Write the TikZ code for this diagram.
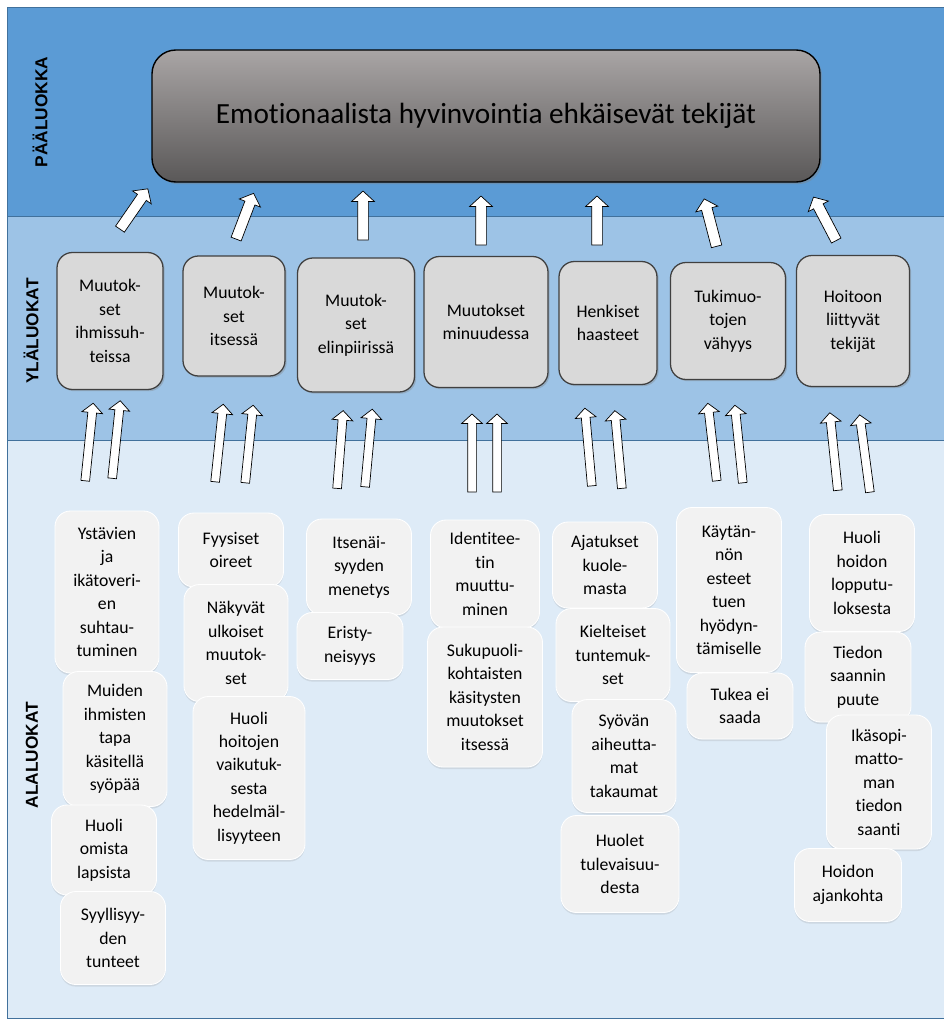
\documentclass[tikz,border=0pt]{standalone}
\usepackage{fontspec}
\setmainfont{Carlito}[Ligatures=NoCommon]
\newfontfamily\headfont{Liberation Sans}
\usepackage{tikz}
\usetikzlibrary{shapes.arrows, shadows, positioning}

\definecolor{bandtop}{HTML}{5B9BD5}
\definecolor{bandmid}{HTML}{9DC3E6}
\definecolor{bandlow}{HTML}{DEEBF7}
\definecolor{bandline}{HTML}{41719C}
\definecolor{midfill}{HTML}{D9D9D9}
\definecolor{lowfill}{HTML}{F2F2F2}
\definecolor{maintop}{HTML}{A9A5A5}
\definecolor{mainbot}{HTML}{5A5858}
\newcommand{\pxl}{0.025cm}

\begin{document}
\begin{tikzpicture}[
    x=0.025cm, y=-0.025cm,
    sz/.style 2 args={minimum width=#1*\pxl, minimum height=#2*\pxl},
    band/.style={draw=bandline, line width=0.6pt},
    sidelabel/.style={rotate=90, font=\headfont\bfseries\fontsize{12.3}{14}\selectfont},
    mainbox/.style={rectangle, rounded corners=17pt, draw=black, line width=1pt, top color=maintop, bottom color=mainbot, font=\fontsize{20.8}{24}\selectfont, drop shadow={opacity=0.4, shadow xshift=1.5pt, shadow yshift=-1.5pt}},
    ylabox/.style={rectangle, rounded corners=11pt, draw=black!75, line width=0.9pt, fill=midfill, align=center, inner sep=2pt, font=\fontsize{12.6}{16.7}\selectfont, drop shadow={opacity=0.35, shadow xshift=1.2pt, shadow yshift=-1.2pt}},
    alabox/.style={rectangle, rounded corners=11pt, draw=white, line width=0.6pt, fill=lowfill, align=center, inner sep=2pt, font=\fontsize{12.6}{16.7}\selectfont, drop shadow={opacity=0.18, shadow xshift=0pt, shadow yshift=-1.5pt}},
    toparr/.style={single arrow, draw=black, fill=white, line width=0.5pt, inner xsep=0pt, inner ysep=5*\pxl, minimum height=49*\pxl, single arrow head extend=6*\pxl, single arrow tip angle=95, sloped, allow upside down},
    lowarr/.style={single arrow, draw=black, fill=white, line width=0.5pt, inner xsep=0pt, inner ysep=4*\pxl, minimum height=78*\pxl, single arrow head extend=6*\pxl, single arrow tip angle=95, sloped, allow upside down}
]
\useasboundingbox (0,0) rectangle (944,1020);

% Bands
\draw[band, fill=bandtop] (7,7) rectangle (944,216);
\draw[band, fill=bandmid] (7,216) rectangle (944,440);
\draw[band, fill=bandlow] (7,440) rectangle (944,1018);

\node[sidelabel] (paa) at (40,112) {PÄÄLUOKKA};
\node[sidelabel] (yla) at (31,331) {YLÄLUOKAT};
\node[sidelabel] (ala) at (32,755) {ALALUOKAT};

% Main category
\node[mainbox, sz={668}{132}] (main) at (486,116) {Emotionaalista hyvinvointia ehkäisevät tekijät};

% Arrows to main category
\path (118,232) coordinate (ta1) -- node[toparr] (pa1) {} (147,190) coordinate (ha1);
\path (235,242) coordinate (ta2) -- node[toparr] (pa2) {} (253,195) coordinate (ha2);
\path (363,243) coordinate (ta3) -- node[toparr] (pa3) {} (363,193) coordinate (ha3);
\path (481,248) coordinate (ta4) -- node[toparr] (pa4) {} (481,198) coordinate (ha4);
\path (597,248) coordinate (ta5) -- node[toparr] (pa5) {} (597,198) coordinate (ha5);
\path (717,248) coordinate (ta6) -- node[toparr] (pa6) {} (705,202) coordinate (ha6);
\path (837,242) coordinate (ta7) -- node[toparr] (pa7) {} (815,200) coordinate (ha7);

% Upper categories
\node[ylabox, sz={106}{137}] (y1) at (110,321) {Muutok-\\set\\ihmissuh-\\teissa};
\node[ylabox, sz={102}{120}] (y2) at (234,316) {Muutok-\\set\\itsessä};
\node[ylabox, sz={117}{134}] (y3) at (356,325) {Muutok-\\set\\elinpiirissä};
\node[ylabox, sz={124}{131}] (y4) at (486,322) {Muutokset\\minuudessa};
\node[ylabox, sz={98}{123}] (y5) at (608,323) {Henkiset\\haasteet};
\node[ylabox, sz={115}{117}] (y6) at (728,321) {Tukimuo-\\tojen\\vähyys};
\node[ylabox, sz={113}{131}] (y7) at (853,321) {Hoitoon\\liittyvät\\tekijät};

% Arrows to upper categories
\path (85,483) coordinate (tb1) -- node[lowarr] (pb1) {} (93,405) coordinate (hb1);
\path (112,480) coordinate (tb2) -- node[lowarr] (pb2) {} (120,403) coordinate (hb2);
\path (215,483) coordinate (tb3) -- node[lowarr] (pb3) {} (223,407) coordinate (hb3);
\path (245,485) coordinate (tb4) -- node[lowarr] (pb4) {} (253,407) coordinate (hb4);
\path (337,490) coordinate (tb5) -- node[lowarr] (pb5) {} (343,413) coordinate (hb5);
\path (365,488) coordinate (tb6) -- node[lowarr] (pb6) {} (372,412) coordinate (hb6);
\path (472,493) coordinate (tb7) -- node[lowarr] (pb7) {} (472,417) coordinate (hb7);
\path (497,493) coordinate (tb8) -- node[lowarr] (pb8) {} (497,417) coordinate (hb8);
\path (592,488) coordinate (tb9) -- node[lowarr] (pb9) {} (585,410) coordinate (hb9);
\path (622,490) coordinate (tb10) -- node[lowarr] (pb10) {} (615,413) coordinate (hb10);
\path (717,483) coordinate (tb11) -- node[lowarr] (pb11) {} (708,405) coordinate (hb11);
\path (743,485) coordinate (tb12) -- node[lowarr] (pb12) {} (735,407) coordinate (hb12);
\path (838,492) coordinate (tb13) -- node[lowarr] (pb13) {} (830,415) coordinate (hb13);
\path (870,493) coordinate (tb14) -- node[lowarr] (pb14) {} (860,418) coordinate (hb14);

% Lower categories
\node[alabox, sz={104}{162}] (a1) at (107,592) {Ystävien\\ja\\ikätoveri-\\en\\suhtau-\\tuminen};
\node[alabox, sz={104}{135}] (a2) at (115,739) {Muiden\\ihmisten\\tapa\\käsitellä\\syöpää};
\node[alabox, sz={105}{90}] (a3) at (104,850) {Huoli\\omista\\lapsista};
\node[alabox, sz={105}{93}] (a4) at (113,938) {Syyllisyy-\\den\\tunteet};

\node[alabox, sz={105}{74}] (b1) at (231,550) {Fyysiset\\oireet};
\node[alabox, sz={104}{117}] (b2) at (236,643) {Näkyvät\\ulkoiset\\muutok-\\set};
\node[alabox, sz={112}{163}] (b3) at (249,778) {Huoli\\hoitojen\\vaikutuk-\\sesta\\hedelmäl-\\lisyyteen};

\node[alabox, sz={105}{96}] (c1) at (359,567) {Itsenäi-\\syyden\\menetys};
\node[alabox, sz={106}{67}] (c2) at (350,646) {Eristy-\\neisyys};

\node[alabox, sz={109}{108}] (d1) at (485,574) {Identitee-\\tin\\muuttu-\\minen};
\node[alabox, sz={115}{140}] (d2) at (485,697) {Sukupuoli-\\kohtaisten\\käsitysten\\muutokset\\itsessä};

\node[alabox, sz={105}{86}] (e1) at (605,565) {Ajatukset\\kuole-\\masta};
\node[alabox, sz={114}{93}] (e2) at (613,655) {Kielteiset\\tuntemuk-\\set};
\node[alabox, sz={104}{113}] (e3) at (624,756) {Syövän\\aiheutta-\\mat\\takaumat};
\node[alabox, sz={118}{97}] (e4) at (620,864) {Huolet\\tulevaisuu-\\desta};

\node[alabox, sz={105}{165}] (f1) at (729,590) {Käytän-\\nön\\esteet\\tuen\\hyödyn-\\tämiselle};
\node[alabox, sz={106}{66}] (f2) at (740,706) {Tukea ei\\saada};

\node[alabox, sz={105}{117}] (g1) at (862,573) {Huoli\\hoidon\\lopputu-\\loksesta};
\node[alabox, sz={106}{90}] (g2) at (858,677) {Tiedon\\saannin\\puute};
\node[alabox, sz={105}{134}] (g3) at (879,782) {Ikäsopi-\\matto-\\man\\tiedon\\saanti};
\node[alabox, sz={107}{73}] (g4) at (848,885) {Hoidon\\ajankohta};

\end{tikzpicture}
\end{document}
